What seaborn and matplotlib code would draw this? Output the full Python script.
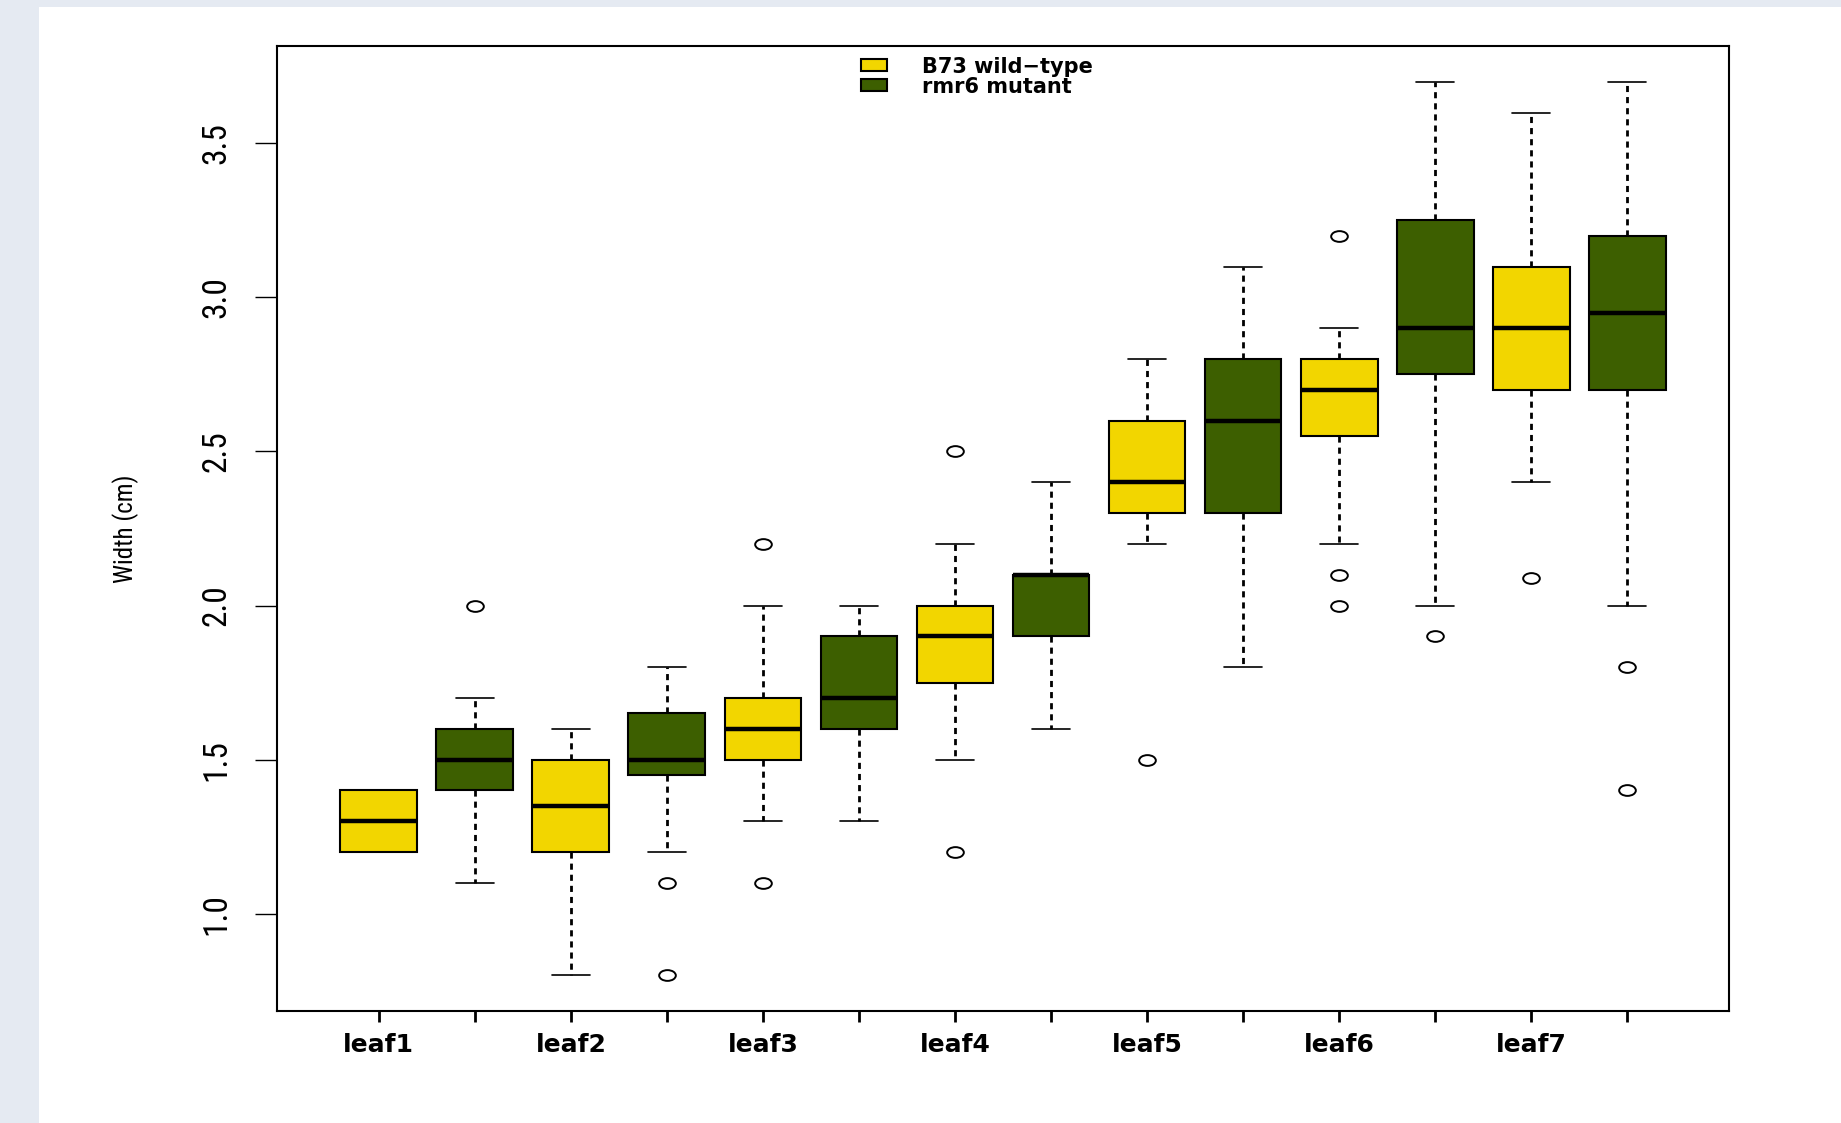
import matplotlib
matplotlib.use("Agg")
import matplotlib.pyplot as plt
from matplotlib.patches import Patch, Rectangle
from matplotlib.path import Path
from matplotlib.transforms import Affine2D
import numpy as np
import pandas as pd
import seaborn as sns

# Leaf width measurements (cm) per leaf, for each genotype
leaves = ["leaf1", "leaf2", "leaf3", "leaf4", "leaf5", "leaf6", "leaf7"]
genotypes = ["B73 wild\u2212type", "rmr6 mutant"]

b73_widths = [
    [1.2, 1.2, 1.2, 1.2, 1.25, 1.3, 1.3, 1.3, 1.35, 1.4, 1.4, 1.4, 1.4],
    [0.8, 1.0, 1.2, 1.2, 1.3, 1.35, 1.35, 1.4, 1.45, 1.5, 1.5, 1.55, 1.6],
    [1.1, 1.3, 1.4, 1.5, 1.55, 1.6, 1.6, 1.6, 1.65, 1.7, 1.8, 2.0, 2.2],
    [1.2, 1.5, 1.6, 1.75, 1.8, 1.85, 1.9, 1.9, 2.0, 2.0, 2.1, 2.2, 2.5],
    [1.5, 2.2, 2.3, 2.3, 2.35, 2.4, 2.4, 2.5, 2.5, 2.6, 2.7, 2.7, 2.8],
    [2.0, 2.1, 2.2, 2.55, 2.6, 2.7, 2.7, 2.7, 2.75, 2.8, 2.8, 2.9, 3.2],
    [2.09, 2.4, 2.6, 2.7, 2.8, 2.9, 2.9, 3.0, 3.0, 3.1, 3.3, 3.5, 3.6],
]
rmr6_widths = [
    [1.1, 1.3, 1.4, 1.4, 1.45, 1.5, 1.5, 1.5, 1.55, 1.6, 1.6, 1.7, 2.0],
    [0.8, 1.1, 1.2, 1.45, 1.5, 1.5, 1.5, 1.55, 1.6, 1.65, 1.7, 1.75, 1.8],
    [1.3, 1.5, 1.6, 1.6, 1.7, 1.7, 1.7, 1.8, 1.8, 1.9, 1.9, 2.0, 2.0],
    [1.6, 1.8, 1.9, 1.9, 2.0, 2.1, 2.1, 2.1, 2.1, 2.1, 2.2, 2.3, 2.4],
    [1.8, 2.0, 2.2, 2.3, 2.4, 2.5, 2.6, 2.7, 2.7, 2.8, 2.9, 3.0, 3.1],
    [1.9, 2.0, 2.5, 2.75, 2.8, 2.9, 2.9, 3.0, 3.1, 3.25, 3.4, 3.6, 3.7],
    [1.4, 1.8, 2.0, 2.7, 2.8, 2.9, 2.95, 3.0, 3.1, 3.2, 3.4, 3.6, 3.7],
]

yellow = "#F2D600"
green = "#3D5F00"

rows = []
order = []
for leaf, wt, mut in zip(leaves, b73_widths, rmr6_widths):
    for geno, vals in ((genotypes[0], wt), (genotypes[1], mut)):
        key = f"{leaf} {geno}"
        order.append(key)
        for v in vals:
            rows.append({"group": key, "genotype": geno, "width": v})
df = pd.DataFrame(rows)

sns.set_theme(style="ticks")
plt.rcParams["font.family"] = ["DejaVu Sans"]
plt.rcParams["text.color"] = "black"
narrow = ["Liberation Sans Narrow", "Roboto Condensed", "DejaVu Sans"]

fig = plt.figure(figsize=(18.41, 11.23), dpi=100, facecolor="white")
# light page margins
fig.patches.append(Rectangle((0, 0), 39 / 1841, 1, transform=fig.transFigure,
                             facecolor="#E5EAF2", edgecolor="none", zorder=0))
fig.patches.append(Rectangle((0, 1 - 7 / 1123), 1, 7 / 1123, transform=fig.transFigure,
                             facecolor="#E5EAF2", edgecolor="none", zorder=0))

ax = fig.add_axes([277 / 1841, 1 - 1011 / 1123, (1729 - 277) / 1841, (1011 - 46) / 1123])
ax.set_facecolor("white")

ellipse = Path.unit_circle().transformed(Affine2D().scale(1.55, 1.0))

sns.boxplot(
    data=df, x="group", y="width", hue="genotype", order=order,
    hue_order=genotypes, palette={genotypes[0]: yellow, genotypes[1]: green},
    saturation=1, dodge=False, width=0.8, whis=1.5001,
    linecolor="black", linewidth=1.5, legend=False, ax=ax,
    medianprops={"color": "black", "linewidth": 3.2},
    whiskerprops={"color": "black", "linewidth": 2.0, "linestyle": (0, (2.2, 1.8))},
    capprops={"color": "black", "linewidth": 1.2},
    flierprops={"marker": ellipse, "markersize": 12, "markerfacecolor": "none",
                "markeredgecolor": "black", "markeredgewidth": 1.4},
)

ax.set_xlim(-1.06, 14.06)
ax.set_ylim(0.684, 3.816)

ax.set_xticks(range(len(order)))
ax.set_xticklabels([leaf if i % 2 == 0 else "" for i, leaf in
                    enumerate(l for l in leaves for _ in range(2))],
                   fontsize=18, fontweight="bold", color="black")
ax.set_xlabel("")

ax.set_yticks([1.0, 1.5, 2.0, 2.5, 3.0, 3.5])
ax.set_yticklabels(["1.0", "1.5", "2.0", "2.5", "3.0", "3.5"],
                   family=narrow, stretch="condensed", fontsize=24,
                   rotation=90, va="center", ha="right", color="black")
ax.set_ylabel("Width (cm)", family=narrow, stretch="condensed",
              fontsize=18, color="black")
ax.yaxis.set_label_coords(-0.095, 0.5)

ax.tick_params(axis="y", length=16, width=1.0, pad=16, colors="black")
ax.tick_params(axis="x", length=8, width=2.0, pad=8, colors="black")
for sp in ax.spines.values():
    sp.set_visible(True)
    sp.set_color("black")
    sp.set_linewidth(1.5)

handles = [Patch(facecolor=yellow, edgecolor="black", linewidth=1.5, label=genotypes[0]),
           Patch(facecolor=green, edgecolor="black", linewidth=1.5, label=genotypes[1])]
leg = ax.legend(handles=handles, loc="upper left", bbox_to_anchor=(0.402, 0.989),
                frameon=False, prop={"size": 15, "weight": "bold"},
                handlelength=1.25, handleheight=0.5, handletextpad=1.7,
                labelspacing=0.0, borderpad=0, borderaxespad=0)
for t in leg.get_texts():
    t.set_color("black")

fig.savefig("out.png", dpi=100, facecolor="white")
